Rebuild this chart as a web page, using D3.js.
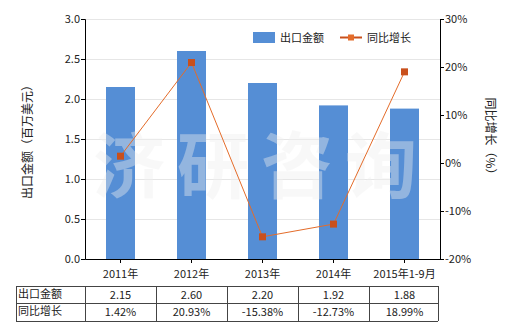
<!DOCTYPE html>
<html>
<head>
<meta charset="utf-8">
<script src="https://cdn.jsdelivr.net/npm/d3@7"></script>
<style>
  body { margin: 0; background: #fff; }
  svg text { font-family: "Noto Sans CJK SC", "Noto Sans", sans-serif; font-size: 11px; fill: #222; }
</style>
</head>
<body>
<div id="chart"></div>
<script>
const categories = ["2011年", "2012年", "2013年", "2014年", "2015年1-9月"];
const exportValues = [2.15, 2.60, 2.20, 1.92, 1.88];
const growthValues = [1.42, 20.93, -15.38, -12.73, 18.99];
const exportLabels = ["2.15", "2.60", "2.20", "1.92", "1.88"];
const growthLabels = ["1.42%", "20.93%", "-15.38%", "-12.73%", "18.99%"];
const leftTicks = [0, 0.5, 1.0, 1.5, 2.0, 2.5, 3.0];
const rightTicks = [-20, -10, 0, 10, 20, 30];

const width = 520;
const height = 330;
const plot = { left: 85, right: 440, top: 19, bottom: 259 };

const svg = d3
  .select("#chart")
  .append("svg")
  .attr("width", width)
  .attr("height", height);

const x = d3
  .scaleBand()
  .domain(categories)
  .range([plot.left, plot.right]);

const yLeft = d3.scaleLinear().domain([0, 3]).range([plot.bottom, plot.top]);
const yRight = d3.scaleLinear().domain([-20, 30]).range([plot.bottom, plot.top]);

// gridlines
svg
  .append("g")
  .selectAll("line")
  .data(leftTicks.slice(1))
  .join("line")
  .attr("x1", plot.left)
  .attr("x2", plot.right)
  .attr("y1", (d) => yLeft(d) + 0.5)
  .attr("y2", (d) => yLeft(d) + 0.5)
  .attr("stroke", "#e6e6e6");

// bars
const barW = 29;
svg
  .append("g")
  .selectAll("rect")
  .data(exportValues)
  .join("rect")
  .attr("x", (d, i) => x(categories[i]) + x.bandwidth() / 2 - barW / 2)
  .attr("y", (d) => yLeft(d))
  .attr("width", barW)
  .attr("height", (d) => plot.bottom - yLeft(d))
  .attr("fill", "#558ed5");

// watermark
svg
  .append("text")
  .attr("x", 93)
  .attr("y", 192)
  .style("font-size", "72px")
  .style("font-weight", "bold")
  .style("letter-spacing", "12px")
  .style("fill", "#f0f0f0")
  .style("opacity", 0.4)
  .text("济研咨询");

// line
const line = d3
  .line()
  .x((d, i) => x(categories[i]) + x.bandwidth() / 2)
  .y((d) => yRight(d));

svg
  .append("path")
  .datum(growthValues)
  .attr("d", line)
  .attr("fill", "none")
  .attr("stroke", "#e46c2a")
  .attr("stroke-width", 1);

svg
  .append("g")
  .selectAll("rect")
  .data(growthValues)
  .join("rect")
  .attr("x", (d, i) => x(categories[i]) + x.bandwidth() / 2 - 3.5)
  .attr("y", (d) => yRight(d) - 3.5)
  .attr("width", 7)
  .attr("height", 7)
  .attr("fill", "#c9501c");

// axes
const axisLeft = svg
  .append("g")
  .attr("transform", `translate(${plot.left},0)`)
  .call(d3.axisLeft(yLeft).tickValues(leftTicks).tickFormat(d3.format(".1f")).tickSize(4));

const axisRight = svg
  .append("g")
  .attr("transform", `translate(${plot.right},0)`)
  .call(d3.axisRight(yRight).tickValues(rightTicks).tickFormat((d) => d + "%").tickSize(4));

const axisBottom = svg
  .append("g")
  .attr("transform", `translate(0,${plot.bottom})`)
  .call(d3.axisBottom(x).tickSize(4).tickSizeOuter(0));

[axisLeft, axisRight, axisBottom].forEach((g) => {
  g.select(".domain").attr("stroke", "#000");
  g.selectAll(".tick line").attr("stroke", "#000");
  g.selectAll("text").style("font-size", "11px").style("fill", "#222");
});
axisBottom.selectAll("text").attr("dy", "1.1em");
axisLeft.selectAll("text").attr("x", -5);
axisRight.selectAll("text").attr("x", 5);

// axis titles
svg
  .append("text")
  .attr("transform", `translate(32,${(plot.top + plot.bottom) / 2}) rotate(-90)`)
  .attr("text-anchor", "middle")
  .style("font-size", "12px")
  .text("出口金额（百万美元）");

svg
  .append("text")
  .attr("transform", `translate(486,${(plot.top + plot.bottom) / 2}) rotate(90)`)
  .attr("text-anchor", "middle")
  .style("font-size", "12px")
  .text("同比增长（%）");

// legend
const legend = svg.append("g");
legend
  .append("rect")
  .attr("x", 253)
  .attr("y", 32)
  .attr("width", 22)
  .attr("height", 11)
  .attr("fill", "#558ed5");
legend.append("text").attr("x", 280).attr("y", 42).text("出口金额");
legend
  .append("line")
  .attr("x1", 340)
  .attr("x2", 362)
  .attr("y1", 37.5)
  .attr("y2", 37.5)
  .attr("stroke", "#c9501c")
  .attr("stroke-width", 2);
legend
  .append("rect")
  .attr("x", 348)
  .attr("y", 34.5)
  .attr("width", 6)
  .attr("height", 6)
  .attr("fill", "#e46c2a");
legend.append("text").attr("x", 367).attr("y", 42).text("同比增长");

// data table
const table = svg.append("g");
const tLeft = 16;
const tRight = 438;
const rowY = [286, 303, 321];
const colX = [tLeft].concat(categories.map((c) => x(c))).concat([tRight]);

rowY.forEach((y) => {
  table
    .append("line")
    .attr("x1", tLeft)
    .attr("x2", tRight)
    .attr("y1", y + 0.5)
    .attr("y2", y + 0.5)
    .attr("stroke", "#444");
});
colX.forEach((cx) => {
  table
    .append("line")
    .attr("x1", Math.round(cx) + 0.5)
    .attr("x2", Math.round(cx) + 0.5)
    .attr("y1", rowY[0])
    .attr("y2", rowY[2])
    .attr("stroke", "#444");
});

const rows = [
  { name: "出口金额", labels: exportLabels },
  { name: "同比增长", labels: growthLabels },
];
rows.forEach((r, ri) => {
  const cy = (rowY[ri] + rowY[ri + 1]) / 2 + 4;
  table.append("text").attr("x", tLeft + 2).attr("y", cy - 1).text(r.name);
  table
    .selectAll(null)
    .data(r.labels)
    .join("text")
    .attr("x", (d, i) => x(categories[i]) + x.bandwidth() / 2)
    .attr("y", cy)
    .attr("text-anchor", "middle")
    .text((d) => d);
});
</script>
</body>
</html>
